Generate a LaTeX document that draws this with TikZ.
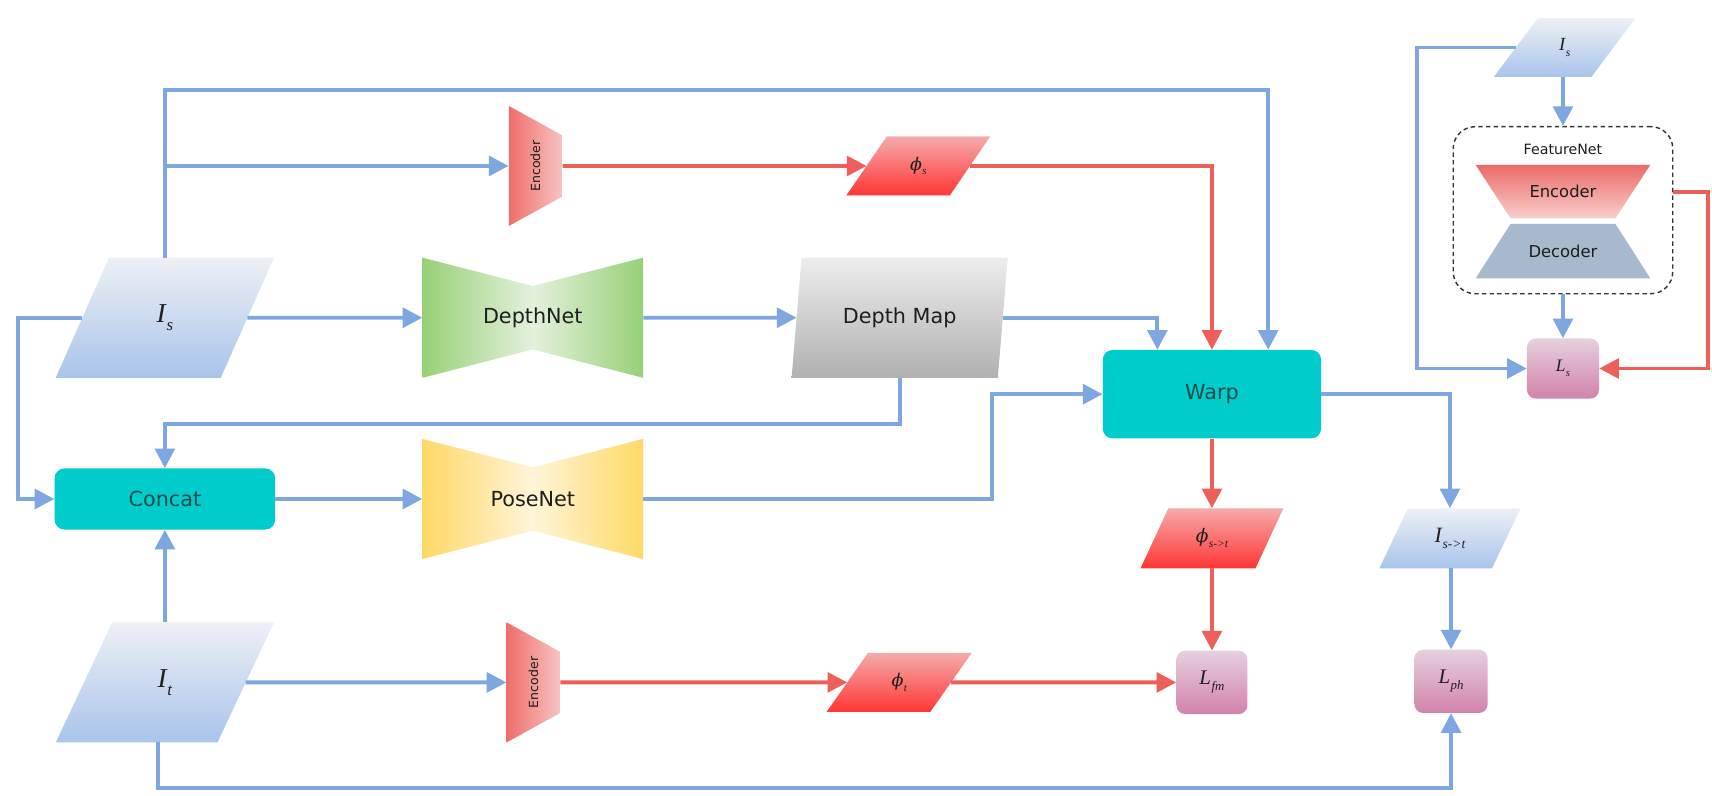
\documentclass[tikz,border=0pt]{standalone}
\usepackage{fontspec}
\setmainfont{DejaVu Sans}
\newfontfamily\labfont{Liberation Serif}
\newfontfamily\phifont{DejaVu Serif}
\usepackage{graphicx}
\newcommand{\subpart}[1]{\raisebox{-0.28em}{\scalebox{0.62}{#1}}}
\newcommand{\mlab}[2]{{\labfont\itshape #1\kern0.03em\subpart{#2}}}
\newcommand{\philab}[1]{{\phifont\itshape ϕ}{\labfont\itshape\kern0.02em\subpart{#1}}}
\usetikzlibrary{shapes.geometric,arrows.meta,calc}

\definecolor{cblue}{HTML}{7EA6E0}
\definecolor{cred}{HTML}{EF5F5A}
\definecolor{tealbox}{HTML}{00CCCC}
\definecolor{tealtxt}{HTML}{1B4B4B}
\definecolor{txt}{HTML}{1E1E1E}
\definecolor{iTop}{HTML}{EDF0F5}
\definecolor{iBot}{HTML}{A9C4EB}
\definecolor{phiTop}{HTML}{F5ABAA}
\definecolor{phiBot}{HTML}{FF3535}
\definecolor{encL}{HTML}{EF6E6A}
\definecolor{encR}{HTML}{F6C4C3}
\definecolor{grn}{HTML}{97D077}
\definecolor{grnL}{HTML}{E3F1DC}
\definecolor{yel}{HTML}{FFD966}
\definecolor{yelL}{HTML}{FFF4D8}
\definecolor{dmTop}{HTML}{EDEDED}
\definecolor{dmBot}{HTML}{B0B0B0}
\definecolor{LTop}{HTML}{E6D0DE}
\definecolor{LBot}{HTML}{D282A9}
\definecolor{fencTop}{HTML}{EA6B66}
\definecolor{fencBot}{HTML}{F8CFCD}
\definecolor{decc}{HTML}{A6B9CD}
\definecolor{dashc}{HTML}{333333}

\begin{document}
\begin{tikzpicture}[x=1pt,y=-1pt,
  bl/.style={draw=cblue,line width=3.6pt,-{Triangle[length=18pt,width=18pt]}},
  rd/.style={draw=cred,line width=3.6pt,-{Triangle[length=18pt,width=18pt]}},
  lbl/.style={font=\fontsize{19}{21}\selectfont,text=txt},
  para/.style={trapezium,trapezium stretches=true,inner sep=0pt,outer sep=0pt,draw=none},
  imgpara/.style={para,top color=iTop,bottom color=iBot,text=txt},
  phipara/.style={para,top color=phiTop,bottom color=phiBot,text=txt},
  rbox/.style={rectangle,rounded corners=9pt,fill=tealbox,inner sep=0pt,text=tealtxt,font=\fontsize{19}{21}\selectfont},
  lossbox/.style={rectangle,rounded corners=8pt,top color=LTop,bottom color=LBot,inner sep=0pt,text=txt,font=\fontsize{19}{21}\selectfont},
  bowtie/.style 2 args={rectangle,minimum width=202pt,minimum height=110pt,inner sep=0pt,
    path picture={\shade[left color=#1,right color=#1,middle color=#2]
      (path picture bounding box.north west) -- ($(path picture bounding box.north)+(0,-26pt)$) --
      (path picture bounding box.north east) -- (path picture bounding box.south east) --
      ($(path picture bounding box.south)+(0,26pt)$) -- (path picture bounding box.south west) -- cycle;}},
  encv/.style={rectangle,minimum width=49pt,minimum height=110pt,inner sep=0pt,text=txt,
    font=\fontsize{11.5}{13}\selectfont,
    path picture={\shade[left color=encL,right color=encR]
      (path picture bounding box.north west) -- ($(path picture bounding box.north east)+(0,-27pt)$) --
      ($(path picture bounding box.south east)+(0,27pt)$) -- (path picture bounding box.south west) -- cycle;}},
]
\fill[white] (0,0) rectangle (1568,729);
\useasboundingbox (0,0) rectangle (1568,729);

% ---- main nodes
\node[imgpara,trapezium left angle=73,trapezium right angle=107,minimum width=200pt,minimum height=110pt,font=\fontsize{25}{27}\selectfont] (Is) at (151,291) {\mlab{I}{s}};
\node[imgpara,trapezium left angle=73,trapezium right angle=107,minimum width=200pt,minimum height=110pt,font=\fontsize{25}{27}\selectfont] (It) at (151,625) {\mlab{I}{t}};
\node[encv] (enc1) at (490.5,152) {\rotatebox{90}{Encoder}};
\node[encv] (enc2) at (488.5,625) {\rotatebox{90}{Encoder}};
\node[phipara,trapezium left angle=60,trapezium right angle=120,minimum width=132pt,minimum height=54pt,font=\fontsize{16}{18}\selectfont] (phis) at (841,152) {\philab{s}};
\node[bowtie={grn}{grnL},lbl] (depth) at (488,291) {DepthNet};
\node[para,top color=dmTop,bottom color=dmBot,trapezium left angle=74,trapezium right angle=106,minimum width=198pt,minimum height=110pt,lbl] (dmap) at (824,291) {Depth Map};
\node[rbox,minimum width=200pt,minimum height=81pt] (warp) at (1110,361) {Warp};
\node[rbox,minimum width=202pt,minimum height=56pt] (concat) at (151,457) {Concat};
\node[bowtie={yel}{yelL},lbl] (pose) at (488,457) {PoseNet};
\node[phipara,trapezium left angle=61,trapezium right angle=119,minimum width=133pt,minimum height=54pt,font=\fontsize{16}{18}\selectfont] (phit) at (823.5,625) {\philab{t}};
\node[phipara,trapezium left angle=62,trapezium right angle=118,minimum width=131pt,minimum height=55pt,font=\fontsize{17}{19}\selectfont] (phist) at (1110,493) {\philab{s->t}};
\node[imgpara,trapezium left angle=63,trapezium right angle=117,minimum width=130pt,minimum height=55pt,font=\fontsize{20}{22}\selectfont] (Ist) at (1328,493) {\mlab{I}{s->t}};
\node[lossbox,minimum width=65pt,minimum height=58pt] (Lfm) at (1110,625) {\mlab{L}{fm}};
\node[lossbox,minimum width=67pt,minimum height=58pt] (Lph) at (1329,624) {\mlab{L}{ph}};

% ---- right panel
\node[imgpara,trapezium left angle=62,trapezium right angle=118,minimum width=130pt,minimum height=54pt,font=\fontsize{17}{19}\selectfont] (sIs) at (1433,43.5) {\mlab{I}{s}};
\node[rectangle,rounded corners=20pt,draw=dashc,dash pattern=on 4pt off 3pt,line width=1.3pt,minimum width=201pt,minimum height=153pt] (fbox) at (1431.5,192.5) {};
\node[font=\fontsize{13}{15}\selectfont,text=txt] (flabel) at (1431.5,137) {FeatureNet};
\node[rectangle,minimum width=160pt,minimum height=49pt,inner sep=0pt,text=txt,font=\fontsize{15}{17}\selectfont,
  path picture={\shade[top color=fencTop,bottom color=fencBot]
    (path picture bounding box.north west) -- (path picture bounding box.north east) --
    ($(path picture bounding box.south east)+(-32pt,0)$) -- ($(path picture bounding box.south west)+(32pt,0)$) -- cycle;}]
  (fenc) at (1431.5,175.5) {Encoder};
\node[rectangle,minimum width=160pt,minimum height=50pt,inner sep=0pt,text=txt,font=\fontsize{15}{17}\selectfont,
  path picture={\fill[decc]
    ($(path picture bounding box.north west)+(32pt,0)$) -- ($(path picture bounding box.north east)+(-32pt,0)$) --
    (path picture bounding box.south east) -- (path picture bounding box.south west) -- cycle;}]
  (fdec) at (1431.5,230) {Decoder};
\node[lossbox,minimum width=66pt,minimum height=55pt,font=\fontsize{16}{18}\selectfont] (Ls) at (1431.5,337.5) {\mlab{L}{s}};

% ---- helper coordinates for bends
\coordinate (topy) at (1161.5,82.5);
\coordinate (lft) at (16.5,0);
\coordinate (pvx) at (908.5,0);
\coordinate (rpx) at (1298,0);
\coordinate (rrx) at (1564,0);

% ---- connectors
\draw[bl] (Is.center |- Is.north) -- (Is.center |- topy) -- (topy) -- ([xshift=51.5pt]warp.north);
\draw[bl] (Is.center |- enc1.west) -- (enc1.west);
\draw[rd] (enc1.east) -- (phis.west);
\draw[rd] (phis.east) -| (warp.north);
\draw[bl] (Is.east) -- (depth.west);
\draw[bl] (depth.east) -- (dmap.west);
\draw[bl] (dmap.east) -| ([xshift=-50pt]warp.north);
\draw[bl] (dmap.center |- dmap.south) -- ++(0,42) -| (concat.north);
\draw[bl] (Is.west) -- (Is.west -| lft) |- (concat.west);
\draw[bl] (concat.east) -- (pose.west);
\draw[bl] (pose.east) -- (pose.east -| pvx) |- (warp.west);
\draw[bl] (concat.south |- It.north) -- (concat.south);
\draw[bl] (It.east) -- (enc2.west);
\draw[rd] (enc2.east) -- (phit.west);
\draw[rd] (phit.east) -- (Lfm.west);
\draw[rd] (warp.south) -- (warp.south |- phist.north);
\draw[rd] (Lfm.north |- phist.south) -- (Lfm.north);
\draw[bl] (warp.east) -| (Ist.center |- Ist.north);
\draw[bl] (Lph.north |- Ist.south) -- (Lph.north);
\draw[bl] ($(It.center |- It.south)+(-6pt,0)$) -- ++(0,42) -| (Lph.south);

\draw[bl] (sIs.west) -- (sIs.west -| rpx) |- (Ls.west);
\draw[bl] (fbox.north |- sIs.south) -- (fbox.north);
\draw[bl] (fbox.south) -- (Ls.north);
\draw[rd] (fbox.east |- fenc.center) -- (fenc.center -| rrx) |- (Ls.east);
\end{tikzpicture}
\end{document}
